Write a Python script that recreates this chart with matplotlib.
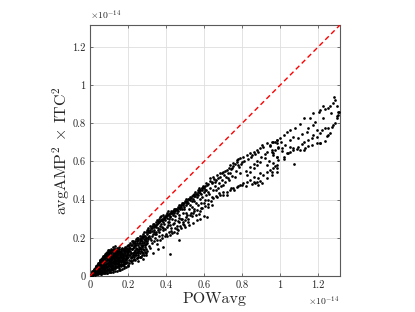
import matplotlib
matplotlib.use("Agg")
import matplotlib.pyplot as plt
from matplotlib.ticker import FuncFormatter

# values in units of 1e-14 : (POWavg, avgAMP^2 x ITC^2)
points_sparse = [
    (1.286, 0.939), (1.291, 0.923), (1.277, 0.904), (1.298, 0.892), (1.260, 0.892),
    (1.254, 0.881), (1.237, 0.874), (1.228, 0.892), (1.211, 0.869), (1.202, 0.860),
    (1.175, 0.852), (1.158, 0.826), (1.128, 0.826), (1.105, 0.794), (1.079, 0.777),
    (1.053, 0.764), (1.035, 0.756), (1.018, 0.738), (1.000, 0.721), (0.982, 0.712),
    (0.965, 0.700), (0.947, 0.686), (1.307, 0.857), (1.298, 0.839), (1.289, 0.800),
    (1.272, 0.782), (1.254, 0.776), (1.298, 0.826), (1.237, 0.773), (1.219, 0.764),
    (1.211, 0.747), (1.193, 0.729), (1.175, 0.738), (1.167, 0.721), (1.149, 0.712),
    (1.123, 0.703), (1.114, 0.689), (1.096, 0.677), (1.070, 0.668), (1.053, 0.651),
    (1.035, 0.642), (1.175, 0.791), (1.193, 0.764), (1.228, 0.826), (1.144, 0.773),
    (1.096, 0.721), (1.070, 0.729), (1.053, 0.712), (1.026, 0.686), (1.009, 0.668),
    (0.991, 0.677), (0.974, 0.660), (0.956, 0.651), (1.253, 0.738), (1.210, 0.695),
    (1.280, 0.790), (1.310, 0.860), (1.307, 0.843), (1.246, 0.733), (1.263, 0.747),
    (0.958, 0.703), (0.982, 0.695), (1.002, 0.703), (0.991, 0.668), (1.011, 0.653),
    (0.965, 0.634), (0.982, 0.625), (1.018, 0.625), (1.044, 0.642), (1.070, 0.660),
    (1.088, 0.663), (1.105, 0.660), (1.123, 0.660), (1.132, 0.668), (1.149, 0.681),
    (1.167, 0.686), (1.193, 0.695), (1.211, 0.698), (1.237, 0.708), (1.074, 0.586),
    (0.956, 0.546), (0.974, 0.576), (0.986, 0.564), (0.961, 0.590), (1.018, 0.611),
    (1.053, 0.677), (1.115, 0.742), (1.140, 0.756), (1.185, 0.806), (1.268, 0.856),
]

points_mid = [
    (0.904, 0.686), (0.912, 0.677), (0.930, 0.695), (0.947, 0.682), (0.974, 0.703),
    (0.982, 0.712), (0.956, 0.660), (0.965, 0.642), (0.982, 0.625), (0.930, 0.651),
    (0.895, 0.668), (0.877, 0.660), (0.860, 0.651), (0.851, 0.634), (0.842, 0.642),
    (0.825, 0.634), (0.807, 0.625), (0.789, 0.616), (0.772, 0.607), (0.798, 0.598),
    (0.781, 0.581), (0.754, 0.590), (0.737, 0.581), (0.746, 0.564), (0.719, 0.555),
    (0.702, 0.546), (0.684, 0.538), (0.667, 0.529), (0.649, 0.520), (0.632, 0.511),
    (0.675, 0.511), (0.658, 0.494), (0.640, 0.485), (0.614, 0.476), (0.596, 0.468),
    (0.588, 0.459), (0.605, 0.450), (0.623, 0.441), (0.579, 0.433), (0.982, 0.581),
    (0.965, 0.564), (0.947, 0.555), (0.930, 0.546), (0.912, 0.529), (0.895, 0.538),
    (0.886, 0.511), (0.860, 0.520), (0.842, 0.503), (0.825, 0.494), (0.807, 0.485),
    (0.789, 0.476), (0.772, 0.468), (0.842, 0.546), (0.825, 0.529), (0.860, 0.564),
    (0.877, 0.581), (0.895, 0.598), (0.921, 0.616), (0.930, 0.581), (0.754, 0.459),
    (0.737, 0.450), (0.719, 0.441), (0.702, 0.424), (0.684, 0.424), (0.667, 0.415),
    (0.649, 0.407), (0.930, 0.511), (0.956, 0.529), (0.904, 0.485), (0.982, 0.546),
    (0.991, 0.607), (0.886, 0.476), (0.860, 0.490), (0.870, 0.487), (0.880, 0.491),
    (0.851, 0.482), (0.894, 0.497), (0.603, 0.472), (0.612, 0.489), (0.622, 0.482),
    (0.633, 0.498), (0.641, 0.493), (0.652, 0.507), (0.661, 0.503), (0.683, 0.518),
    (0.692, 0.537), (0.703, 0.531), (0.712, 0.548), (0.724, 0.541), (0.733, 0.566),
    (0.742, 0.558), (0.751, 0.577), (0.762, 0.588), (0.771, 0.597), (0.779, 0.611),
    (0.622, 0.398), (0.641, 0.412), (0.663, 0.421), (0.681, 0.433), (0.699, 0.442),
    (0.721, 0.423), (0.741, 0.461), (0.759, 0.452), (0.781, 0.471), (0.802, 0.478),
    (0.818, 0.469), (0.662, 0.452), (0.701, 0.479), (0.731, 0.501), (0.762, 0.521),
    (0.791, 0.539), (0.821, 0.552), (0.839, 0.571), (0.861, 0.589), (0.879, 0.602),
    (0.902, 0.621), (0.918, 0.638), (0.941, 0.603),
    (0.300, 0.241), (0.302, 0.222), (0.305, 0.253), (0.311, 0.232), (0.313, 0.262),
    (0.321, 0.251), (0.324, 0.238), (0.331, 0.272), (0.334, 0.243), (0.336, 0.259),
    (0.342, 0.263), (0.345, 0.281), (0.351, 0.271), (0.353, 0.292), (0.356, 0.251),
    (0.361, 0.282), (0.363, 0.301), (0.366, 0.262), (0.371, 0.293), (0.373, 0.312),
    (0.376, 0.272), (0.381, 0.301), (0.383, 0.283), (0.386, 0.322), (0.391, 0.311),
    (0.394, 0.292), (0.401, 0.313), (0.403, 0.331), (0.405, 0.302), (0.408, 0.282),
    (0.412, 0.321), (0.415, 0.298), (0.421, 0.331), (0.423, 0.312), (0.426, 0.342),
    (0.431, 0.332), (0.434, 0.318), (0.441, 0.352), (0.443, 0.331), (0.446, 0.341),
    (0.452, 0.353), (0.455, 0.329), (0.461, 0.362), (0.463, 0.343), (0.466, 0.372),
    (0.471, 0.361), (0.474, 0.352), (0.481, 0.372), (0.483, 0.381), (0.486, 0.351),
    (0.491, 0.381), (0.494, 0.362), (0.501, 0.392), (0.503, 0.371), (0.506, 0.401),
    (0.512, 0.391), (0.515, 0.382), (0.521, 0.402), (0.524, 0.413), (0.531, 0.411),
    (0.534, 0.392), (0.541, 0.422), (0.543, 0.403), (0.546, 0.432), (0.551, 0.421),
    (0.554, 0.441), (0.561, 0.431), (0.563, 0.412), (0.566, 0.452), (0.571, 0.441),
    (0.574, 0.462), (0.581, 0.451), (0.584, 0.432), (0.591, 0.461), (0.594, 0.472),
    (0.301, 0.181), (0.304, 0.192), (0.306, 0.203), (0.322, 0.191), (0.325, 0.212),
    (0.341, 0.198), (0.343, 0.221), (0.346, 0.232), (0.361, 0.208), (0.364, 0.231),
    (0.381, 0.214), (0.384, 0.239), (0.386, 0.252), (0.401, 0.221), (0.404, 0.258),
    (0.421, 0.216), (0.423, 0.268), (0.426, 0.238), (0.441, 0.232), (0.444, 0.279),
    (0.461, 0.242), (0.463, 0.288), (0.466, 0.302), (0.481, 0.251), (0.484, 0.298),
    (0.501, 0.259), (0.503, 0.309), (0.506, 0.331), (0.521, 0.268), (0.524, 0.318),
    (0.541, 0.279), (0.543, 0.331), (0.546, 0.351), (0.561, 0.292), (0.564, 0.348),
    (0.581, 0.301), (0.583, 0.358), (0.586, 0.381), (0.601, 0.312), (0.603, 0.369),
    (0.606, 0.398), (0.614, 0.309), (0.621, 0.362), (0.641, 0.372), (0.383, 0.150),
    (0.300, 0.130), (0.270, 0.100), (0.420, 0.115), (0.350, 0.170), (0.470, 0.190),
    (0.330, 0.120), (0.360, 0.140), (0.455, 0.225), (0.515, 0.282), (0.575, 0.325),
]

points_fill = [
    (0.309, 0.212), (0.316, 0.228), (0.318, 0.201), (0.327, 0.261), (0.329, 0.218),
    (0.338, 0.232), (0.339, 0.271), (0.348, 0.258), (0.349, 0.218), (0.357, 0.241),
    (0.359, 0.289), (0.368, 0.248), (0.369, 0.308), (0.378, 0.259), (0.379, 0.291),
    (0.388, 0.271), (0.389, 0.302), (0.397, 0.248), (0.399, 0.321), (0.409, 0.265),
    (0.411, 0.341), (0.418, 0.281), (0.419, 0.311), (0.428, 0.252), (0.429, 0.298),
    (0.437, 0.271), (0.439, 0.341), (0.448, 0.292), (0.449, 0.312), (0.457, 0.261),
    (0.459, 0.351), (0.468, 0.281), (0.469, 0.321), (0.478, 0.301), (0.479, 0.362),
    (0.488, 0.272), (0.489, 0.331), (0.497, 0.352), (0.499, 0.291), (0.508, 0.322),
    (0.509, 0.381), (0.518, 0.301), (0.519, 0.352), (0.528, 0.372), (0.529, 0.331),
    (0.538, 0.312), (0.539, 0.361), (0.548, 0.392), (0.549, 0.341), (0.558, 0.381),
    (0.559, 0.321), (0.568, 0.371), (0.569, 0.422), (0.578, 0.341), (0.579, 0.401),
    (0.588, 0.412), (0.589, 0.358), (0.598, 0.441), (0.599, 0.381), (0.608, 0.422),
    (0.612, 0.451), (0.618, 0.378), (0.628, 0.431), (0.632, 0.462), (0.638, 0.392),
    (0.648, 0.448), (0.655, 0.471), (0.671, 0.462), (0.678, 0.488), (0.689, 0.471),
    (0.695, 0.502), (0.709, 0.491), (0.716, 0.521), (0.728, 0.512), (0.738, 0.538),
    (0.748, 0.522), (0.766, 0.548), (0.785, 0.571), (0.794, 0.586), (0.812, 0.603),
    (0.831, 0.612), (0.845, 0.621), (0.868, 0.638), (0.886, 0.652),
    (0.307, 0.232), (0.317, 0.242), (0.327, 0.249), (0.337, 0.262), (0.347, 0.268),
    (0.357, 0.279), (0.367, 0.288), (0.377, 0.291), (0.387, 0.301), (0.397, 0.308),
    (0.407, 0.318), (0.417, 0.326), (0.427, 0.329), (0.437, 0.338), (0.447, 0.349),
    (0.457, 0.348), (0.467, 0.358), (0.477, 0.371), (0.487, 0.372), (0.497, 0.381),
    (0.507, 0.388), (0.517, 0.401), (0.527, 0.398), (0.537, 0.418), (0.547, 0.421),
    (0.557, 0.428), (0.567, 0.438), (0.577, 0.448), (0.587, 0.449), (0.597, 0.462),
    (0.204, 0.082), (0.206, 0.131), (0.205, 0.152), (0.214, 0.092), (0.216, 0.121),
    (0.215, 0.161), (0.224, 0.108), (0.226, 0.148), (0.225, 0.171), (0.234, 0.098),
    (0.236, 0.138), (0.235, 0.162), (0.237, 0.183), (0.244, 0.108), (0.246, 0.142),
    (0.245, 0.172), (0.254, 0.112), (0.256, 0.152), (0.255, 0.191), (0.264, 0.118),
    (0.266, 0.161), (0.265, 0.182), (0.267, 0.201), (0.274, 0.128), (0.276, 0.158),
    (0.275, 0.198), (0.284, 0.138), (0.286, 0.171), (0.285, 0.211), (0.294, 0.142),
    (0.296, 0.181), (0.295, 0.201), (0.297, 0.228), (0.246, 0.092), (0.262, 0.102),
    (0.278, 0.118), (0.293, 0.122), (0.213, 0.078), (0.229, 0.088),
    (0.104, 0.062), (0.107, 0.088), (0.113, 0.069), (0.116, 0.098), (0.114, 0.054),
    (0.123, 0.072), (0.127, 0.103), (0.124, 0.087), (0.133, 0.063), (0.136, 0.094),
    (0.134, 0.078), (0.137, 0.109), (0.143, 0.084), (0.147, 0.066), (0.144, 0.114),
    (0.153, 0.072), (0.156, 0.103), (0.154, 0.089), (0.157, 0.119), (0.163, 0.064),
    (0.167, 0.094), (0.164, 0.123), (0.173, 0.082), (0.176, 0.113), (0.174, 0.097),
    (0.177, 0.129), (0.183, 0.075), (0.187, 0.103), (0.184, 0.134), (0.193, 0.093),
    (0.196, 0.124), (0.194, 0.108), (0.197, 0.139),
    (0.105, 0.032), (0.115, 0.038), (0.125, 0.042), (0.135, 0.050), (0.145, 0.052),
    (0.155, 0.055), (0.165, 0.060), (0.175, 0.062), (0.185, 0.068), (0.195, 0.072),
    (0.205, 0.070), (0.215, 0.080), (0.225, 0.085), (0.235, 0.082), (0.245, 0.095),
    (0.255, 0.100), (0.265, 0.098), (0.275, 0.108), (0.285, 0.112), (0.295, 0.110),
    (0.113, 0.083), (0.117, 0.112), (0.127, 0.116), (0.133, 0.098), (0.139, 0.124),
    (0.147, 0.092), (0.153, 0.132), (0.159, 0.101), (0.167, 0.083), (0.173, 0.141),
    (0.179, 0.111), (0.187, 0.088), (0.193, 0.141), (0.199, 0.131), (0.203, 0.112),
    (0.207, 0.142), (0.217, 0.101), (0.219, 0.141), (0.227, 0.118), (0.233, 0.158),
    (0.239, 0.112), (0.243, 0.162), (0.249, 0.128), (0.257, 0.141), (0.263, 0.171),
    (0.269, 0.131), (0.273, 0.181), (0.279, 0.141), (0.283, 0.192), (0.289, 0.161),
    (0.293, 0.198), (0.299, 0.171), (0.125, 0.105), (0.145, 0.123), (0.165, 0.132),
    (0.185, 0.151), (0.205, 0.165), (0.225, 0.181), (0.245, 0.198), (0.265, 0.211),
    (0.285, 0.231), (0.305, 0.242),
    (0.312, 0.158), (0.326, 0.171), (0.338, 0.182), (0.352, 0.191), (0.367, 0.186),
    (0.378, 0.201), (0.392, 0.208), (0.407, 0.212), (0.418, 0.229), (0.433, 0.226),
    (0.447, 0.251), (0.458, 0.246), (0.473, 0.262), (0.488, 0.281), (0.496, 0.268),
    (0.233, 0.121), (0.252, 0.132), (0.271, 0.151), (0.288, 0.128), (0.318, 0.148),
]

points_core = [
    (0.200, 0.162), (0.201, 0.141), (0.199, 0.121), (0.202, 0.101), (0.211, 0.171),
    (0.209, 0.149), (0.212, 0.131), (0.208, 0.112), (0.221, 0.182), (0.219, 0.161),
    (0.222, 0.139), (0.218, 0.122), (0.223, 0.098), (0.231, 0.171), (0.229, 0.152),
    (0.232, 0.128), (0.228, 0.109), (0.241, 0.192), (0.239, 0.171), (0.242, 0.149),
    (0.238, 0.132), (0.243, 0.118), (0.251, 0.201), (0.249, 0.182), (0.252, 0.161),
    (0.248, 0.141), (0.253, 0.121), (0.261, 0.192), (0.259, 0.171), (0.262, 0.148),
    (0.258, 0.131), (0.271, 0.212), (0.269, 0.189), (0.272, 0.171), (0.268, 0.142),
    (0.281, 0.221), (0.279, 0.202), (0.282, 0.179), (0.278, 0.161), (0.291, 0.212),
    (0.289, 0.191), (0.292, 0.169), (0.288, 0.151), (0.150, 0.040), (0.200, 0.060),
    (0.250, 0.080), (0.120, 0.030), (0.180, 0.050), (0.220, 0.070), (0.280, 0.090),
    (0.101, 0.041), (0.099, 0.056), (0.102, 0.071), (0.098, 0.086), (0.101, 0.099),
    (0.100, 0.116), (0.103, 0.126), (0.111, 0.046), (0.109, 0.061), (0.112, 0.074),
    (0.108, 0.091), (0.111, 0.104), (0.110, 0.121), (0.112, 0.131), (0.121, 0.051),
    (0.119, 0.066), (0.122, 0.079), (0.118, 0.096), (0.121, 0.109), (0.120, 0.126),
    (0.131, 0.054), (0.129, 0.071), (0.132, 0.084), (0.128, 0.101), (0.131, 0.114),
    (0.130, 0.129), (0.141, 0.061), (0.139, 0.076), (0.142, 0.089), (0.138, 0.106),
    (0.141, 0.119), (0.140, 0.133), (0.151, 0.062), (0.149, 0.081), (0.152, 0.094),
    (0.148, 0.111), (0.151, 0.124), (0.150, 0.139), (0.161, 0.071), (0.159, 0.086),
    (0.162, 0.099), (0.158, 0.116), (0.161, 0.129), (0.171, 0.072), (0.169, 0.091),
    (0.172, 0.104), (0.168, 0.121), (0.171, 0.134), (0.170, 0.148), (0.181, 0.081),
    (0.179, 0.096), (0.182, 0.109), (0.178, 0.126), (0.181, 0.141), (0.191, 0.086),
    (0.189, 0.101), (0.192, 0.114), (0.188, 0.131), (0.191, 0.149), (0.105, 0.051),
    (0.106, 0.079), (0.104, 0.111), (0.125, 0.061), (0.126, 0.091), (0.124, 0.119),
    (0.145, 0.071), (0.146, 0.099), (0.144, 0.129), (0.165, 0.079), (0.166, 0.111),
    (0.164, 0.139), (0.185, 0.091), (0.186, 0.119), (0.184, 0.146), (0.195, 0.156),
    (0.005, 0.003), (0.006, 0.006), (0.010, 0.004), (0.011, 0.008), (0.009, 0.012),
    (0.010, 0.016), (0.015, 0.006), (0.016, 0.012), (0.014, 0.018), (0.015, 0.024),
    (0.020, 0.008), (0.021, 0.014), (0.019, 0.020), (0.020, 0.027), (0.021, 0.033),
    (0.025, 0.010), (0.026, 0.018), (0.024, 0.025), (0.025, 0.032), (0.026, 0.040),
    (0.030, 0.010), (0.031, 0.018), (0.029, 0.026), (0.030, 0.034), (0.031, 0.042),
    (0.030, 0.050), (0.035, 0.012), (0.036, 0.020), (0.034, 0.030), (0.035, 0.040),
    (0.036, 0.050), (0.035, 0.058), (0.040, 0.014), (0.041, 0.024), (0.039, 0.034),
    (0.040, 0.044), (0.041, 0.054), (0.040, 0.064), (0.045, 0.015), (0.046, 0.026),
    (0.044, 0.037), (0.045, 0.048), (0.046, 0.060), (0.045, 0.070), (0.050, 0.016),
    (0.051, 0.028), (0.049, 0.040), (0.050, 0.052), (0.051, 0.064), (0.050, 0.076),
    (0.055, 0.018), (0.056, 0.030), (0.054, 0.043), (0.055, 0.056), (0.056, 0.069),
    (0.055, 0.082), (0.060, 0.020), (0.061, 0.033), (0.059, 0.046), (0.060, 0.060),
    (0.061, 0.074), (0.060, 0.088), (0.065, 0.020), (0.066, 0.035), (0.064, 0.050),
    (0.065, 0.064), (0.066, 0.078), (0.065, 0.092), (0.070, 0.022), (0.071, 0.037),
    (0.069, 0.052), (0.070, 0.068), (0.071, 0.083), (0.070, 0.098), (0.075, 0.024),
    (0.076, 0.040), (0.074, 0.056), (0.075, 0.072), (0.076, 0.088), (0.075, 0.104),
    (0.080, 0.025), (0.081, 0.042), (0.079, 0.060), (0.080, 0.076), (0.081, 0.093),
    (0.080, 0.110), (0.085, 0.027), (0.086, 0.045), (0.084, 0.063), (0.085, 0.080),
    (0.086, 0.098), (0.085, 0.114), (0.090, 0.030), (0.091, 0.048), (0.089, 0.066),
    (0.090, 0.084), (0.091, 0.102), (0.090, 0.118), (0.095, 0.032), (0.096, 0.050),
    (0.094, 0.070), (0.095, 0.088), (0.096, 0.106), (0.095, 0.122), (0.096, 0.136),
    (0.012, 0.002), (0.027, 0.005), (0.043, 0.008), (0.058, 0.011), (0.073, 0.014),
    (0.088, 0.018), (0.103, 0.022), (0.118, 0.036), (0.133, 0.044), (0.163, 0.055),
    (0.033, 0.046), (0.048, 0.069), (0.063, 0.084), (0.078, 0.100), (0.093, 0.113),
    (0.108, 0.127), (0.118, 0.133), (0.085, 0.122), (0.068, 0.104), (0.053, 0.085),
]

points_wedge = [
    (0.010, 0.021), (0.011, 0.026), (0.020, 0.031), (0.021, 0.038), (0.030, 0.045),
    (0.031, 0.053), (0.040, 0.057), (0.041, 0.066), (0.050, 0.067), (0.051, 0.078),
    (0.060, 0.079), (0.061, 0.091), (0.070, 0.090), (0.071, 0.104), (0.080, 0.101),
    (0.081, 0.115), (0.090, 0.111), (0.091, 0.126), (0.100, 0.121), (0.101, 0.136),
    (0.110, 0.129), (0.111, 0.144), (0.120, 0.136), (0.121, 0.151), (0.130, 0.142),
    (0.131, 0.157), (0.140, 0.148), (0.150, 0.152), (0.060, 0.012), (0.070, 0.014),
    (0.080, 0.016), (0.081, 0.031), (0.090, 0.018), (0.091, 0.036), (0.100, 0.020),
    (0.101, 0.031), (0.110, 0.022), (0.111, 0.035), (0.120, 0.023), (0.121, 0.041),
    (0.130, 0.025), (0.131, 0.040), (0.140, 0.028), (0.141, 0.046), (0.150, 0.029),
    (0.151, 0.050), (0.160, 0.032), (0.161, 0.051), (0.170, 0.036), (0.171, 0.055),
    (0.180, 0.040), (0.181, 0.061), (0.190, 0.045), (0.191, 0.066), (0.200, 0.050),
    (0.103, 0.064), (0.108, 0.094), (0.113, 0.084), (0.118, 0.058), (0.123, 0.098),
    (0.128, 0.078), (0.133, 0.121), (0.138, 0.066), (0.143, 0.098), (0.148, 0.118),
    (0.153, 0.084), (0.158, 0.108), (0.098, 0.078), (0.093, 0.058), (0.088, 0.088),
    (0.083, 0.050), (0.078, 0.064), (0.073, 0.045), (0.068, 0.058), (0.063, 0.040),
    (0.058, 0.050), (0.053, 0.034), (0.048, 0.032), (0.043, 0.028), (0.115, 0.138),
    (0.125, 0.144), (0.135, 0.136), (0.105, 0.130), (0.095, 0.128), (0.145, 0.141),
]

x_ticks = [0, 0.2, 0.4, 0.6, 0.8, 1.0, 1.2]
y_ticks = [0, 0.2, 0.4, 0.6, 0.8, 1.0, 1.2]
axis_max = 1.315
x_label = "POWavg"
y_label = r"avgAMP$^2$ $\times$ ITC$^2$"
exponent_label = r"$\times10^{-14}$"

plt.rcParams["font.family"] = "cmr10"
plt.rcParams["mathtext.fontset"] = "cm"
plt.rcParams["axes.formatter.use_mathtext"] = True

fig = plt.figure(figsize=(4.15, 3.12), dpi=100)
ax = fig.add_axes([0.2169, 0.1154, 0.6024, 0.8045])

all_pts = points_sparse + points_mid + points_fill + points_core + points_wedge
xs = [p[0] for p in all_pts]
ys = [p[1] for p in all_pts]

ax.scatter(xs, ys, s=3.8, c="black", marker="o", linewidths=0, zorder=3)
ax.plot([0, axis_max], [0, axis_max], color="#ff0000", linestyle=(0, (3.6, 2.4)),
        linewidth=1.0, zorder=4)

ax.set_xlim(0, axis_max)
ax.set_ylim(0, axis_max)
ax.set_xticks(x_ticks)
ax.set_yticks(y_ticks)
fmt = FuncFormatter(lambda v, p: "%g" % round(v, 6))
ax.xaxis.set_major_formatter(fmt)
ax.yaxis.set_major_formatter(fmt)

ax.grid(True, color="#dedede", linewidth=0.6, zorder=0)
ax.set_axisbelow(True)
for s in ax.spines.values():
    s.set_color("#5a5a5a")
    s.set_linewidth(0.8)
ax.tick_params(direction="in", length=2.5, width=0.6, colors="#5a5a5a",
               labelcolor="#262626", labelsize=7.5, top=True, right=True, pad=3)

ax.set_xlabel(x_label, fontsize=11.5, color="#262626", labelpad=2)
ax.set_ylabel(y_label, fontsize=11.5, color="#262626", labelpad=0.5)

ax.text(0.0, 1.012, exponent_label, transform=ax.transAxes, fontsize=7,
        color="#262626", ha="left", va="bottom")
ax.text(1.0, -0.075, exponent_label, transform=ax.transAxes, fontsize=7,
        color="#262626", ha="right", va="top")

fig.savefig("out.png", dpi=100)
